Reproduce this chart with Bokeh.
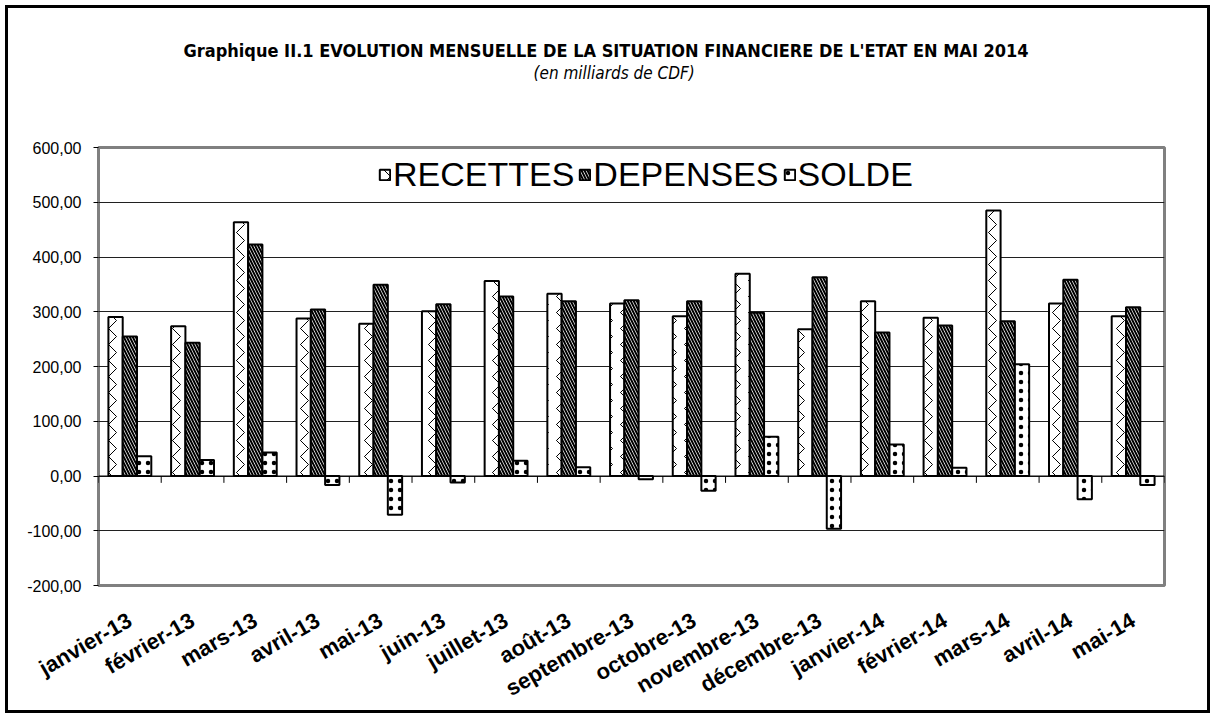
from bokeh.plotting import figure
from bokeh.models import FactorRange, Range1d, FixedTicker, Title, Span, ColumnDataSource
from bokeh.transform import dodge
from bokeh.embed import file_html
from bokeh.resources import INLINE
import math

months = ["janvier-13", "février-13", "mars-13", "avril-13", "mai-13", "juin-13",
          "juillet-13", "août-13", "septembre-13", "octobre-13", "novembre-13",
          "décembre-13", "janvier-14", "février-14", "mars-14", "avril-14", "mai-14"]
recettes = [290.5, 273.5, 463.5, 287.5, 278, 301, 356, 333, 315, 292, 369.5, 268,
            319, 289, 485, 315, 292]
depenses = [255, 243.5, 423, 304, 349.5, 313.5, 328, 319, 321, 319, 298, 363,
            262, 275, 282.5, 358.5, 308]
solde = [36, 29, 43, -16.5, -71, -12, 28, 16, -6, -27, 71.5, -96.5,
         57.5, 15, 204, -42.5, -16.5]
series_names = ["RECETTES", "DEPENSES", "SOLDE"]
y_ticks = [-200, -100, 0, 100, 200, 300, 400, 500, 600]
y_tick_labels = ["-200,00", "-100,00", "0,00", "100,00", "200,00", "300,00",
                 "400,00", "500,00", "600,00"]
title_text = "Graphique II.1  EVOLUTION MENSUELLE DE LA SITUATION FINANCIERE DE L'ETAT EN MAI  2014"
subtitle_text = "(en milliards de CDF)"

NARROW = "'Liberation Sans Narrow', 'DejaVu Sans Condensed', 'Liberation Sans', sans-serif"
ARIAL = "'Liberation Sans', Arial, sans-serif"

src = ColumnDataSource(dict(month=months, recettes=recettes, depenses=depenses, solde=solde))

p = figure(x_range=FactorRange(*months), y_range=Range1d(-200, 600),
           width=1205, height=708, output_backend="svg", toolbar_location=None,
           title=None, min_border_left=90, min_border_right=49,
           min_border_top=139, min_border_bottom=131)
p.styles = {"border": "3px solid black", "margin": "5px 0 0 5px", "box-sizing": "border-box"}

p.outline_line_color = "#808080"
p.outline_line_width = 3
p.xgrid.grid_line_color = None
p.ygrid.ticker = FixedTicker(ticks=y_ticks)
p.ygrid.grid_line_color = "#202020"
p.ygrid.grid_line_width = 1

# y axis
p.yaxis.ticker = FixedTicker(ticks=y_ticks)
p.yaxis.major_label_overrides = {t: l for t, l in zip(y_ticks, y_tick_labels)}
p.yaxis.axis_line_color = None
p.yaxis.major_tick_in = 0
p.yaxis.major_tick_out = 5
p.yaxis.major_tick_line_color = "black"
p.yaxis.minor_tick_line_color = None
p.yaxis.major_label_text_font = ARIAL
p.yaxis.major_label_text_font_size = "16px"
p.yaxis.major_label_text_color = "black"
p.yaxis.major_label_standoff = 12

# x axis
p.xaxis.axis_line_color = None
p.xaxis.major_tick_line_color = None
p.xaxis.minor_tick_line_color = None
p.xaxis.major_tick_in = 0
p.xaxis.major_tick_out = 0
p.xaxis.major_label_orientation = math.radians(30)
p.xaxis.major_label_text_font = ARIAL
p.xaxis.major_label_text_font_style = "bold"
p.xaxis.major_label_text_font_size = "22px"
p.xaxis.major_label_text_color = "black"
p.xaxis.major_label_standoff = 33

# zero line + category ticks on it
p.add_layout(Span(location=0, dimension="width", line_color="black", line_width=1))
bounds = list(range(len(months) + 1))
p.segment(x0=bounds, y0=[0] * len(bounds), x1=bounds, y1=[-12.5] * len(bounds),
          line_color="black", line_width=1)

w = 0.228
p.vbar(x=dodge("month", -w, range=p.x_range), top="recettes", width=w, source=src,
       fill_color="white", line_color="black", line_width=2,
       hatch_pattern="vertical_wave", hatch_color="black", hatch_scale=16, hatch_weight=1,
       legend_label=series_names[0])
p.vbar(x=dodge("month", 0, range=p.x_range), top="depenses", width=w, source=src,
       fill_color="white", line_color="black", line_width=2,
       hatch_pattern="left_diagonal_line", hatch_color="black", hatch_scale=6, hatch_weight=2,
       legend_label=series_names[1])
p.vbar(x=dodge("month", w, range=p.x_range), top="solde", width=w, source=src,
       fill_color="white", line_color="black", line_width=2,
       hatch_pattern="dot", hatch_color="black", hatch_scale=9, hatch_weight=4,
       legend_label=series_names[2])

lg = p.legend[0]
lg.orientation = "horizontal"
lg.location = (280, 391)
lg.label_text_font = ARIAL
lg.label_text_font_size = "34px"
lg.label_text_color = "black"
lg.glyph_width = 13
lg.glyph_height = 13
lg.label_standoff = 2
lg.spacing = 4
lg.padding = 0
lg.margin = 0
lg.background_fill_alpha = 0
lg.border_line_color = None

# spacer between frame and subtitle, then subtitle, then main title
p.add_layout(Title(text=" ", text_font_size="10px", standoff=52), "above")
p.add_layout(Title(text=subtitle_text, align="left", text_font=NARROW,
                   text_font_style="italic", text_font_size="17px", text_color="black",
                   offset=435, standoff=0), "above")
p.add_layout(Title(text=title_text, align="left", text_font=NARROW,
                   text_font_style="bold", text_font_size="18px", text_color="black",
                   offset=85, standoff=0), "above")

open("out.html", "w").write(file_html(p, INLINE))
